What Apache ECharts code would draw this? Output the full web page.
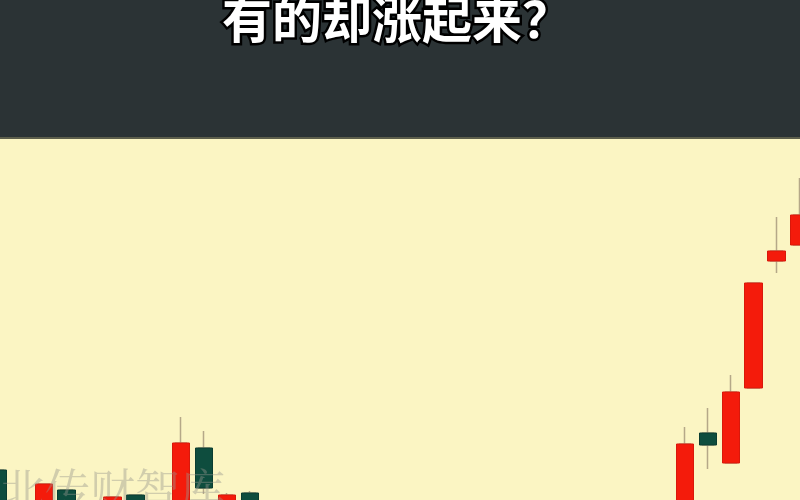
<!DOCTYPE html>
<html>
<head>
<meta charset="utf-8">
<script src="https://cdn.jsdelivr.net/npm/echarts@6/dist/echarts.min.js"></script>
<style>html,body{margin:0;padding:0;background:#fbf5c3;}#main{width:800px;height:500px;}</style>
</head>
<body>
<div id="main"></div>
<script>
// Category index of each candle (trading days)
var days = [];
for (var d = 1; d <= 36; d++) days.push('D' + d);
// Candle values: open, close, low, high (price units)
var opens  = [27.0,22.5,22.0,25.0,22.8,22.0,24.5,22.5,23.0,29.2,22.5,24.7,23.0,21.8,20.6,21.2,19.8,18.9,19.5,18.0,17.2,17.9,16.8,16.1,16.9,17.8,17.2,18.6,19.9,19.4,21.0,30.7,27.7,35.2,47.9,49.5];
var closes = [22.0,23.5,25.6,23.0,22.0,24.3,22.5,23.2,29.7,25.2,24.5,23.0,21.8,20.6,21.2,19.8,18.9,19.5,18.0,17.2,17.9,16.8,16.1,16.9,17.8,17.2,18.6,19.9,19.4,21.0,29.6,29.5,34.8,45.7,48.9,52.5];
var lows   = [21.0,21.5,21.0,22.0,21.0,21.5,22.0,21.8,22.5,24.6,22.0,22.4,21.2,20.1,20.0,19.4,18.2,18.5,17.6,16.5,16.8,16.2,15.5,15.8,16.5,16.9,17.0,18.3,19.0,19.1,20.8,27.1,27.7,35.2,46.7,49.5];
var highs  = [27.3,23.8,25.6,25.0,23.6,24.3,24.5,23.6,32.3,30.9,24.7,24.9,23.4,22.3,21.7,21.5,20.3,20.0,19.8,18.4,18.3,18.1,17.2,17.3,18.2,18.5,19.0,20.4,20.6,21.5,31.3,33.2,36.5,45.7,52.3,56.2];
var titleText = '有的却涨起来？';
var watermarkText = '北传财智库';

var full = [], bodies = [];
for (var i = 0; i < days.length; i++) {
  full.push([opens[i], closes[i], lows[i], highs[i]]);
  bodies.push([opens[i], closes[i], Math.min(opens[i], closes[i]), Math.max(opens[i], closes[i])]);
}

var chart = echarts.init(document.getElementById('main'), null, {renderer: 'canvas'});
chart.setOption({
  animation: false,
  backgroundColor: '#fbf5c3',
  grid: {left: -13.45, right: -10.95, top: 140, bottom: 0, containLabel: false, outerBoundsMode: 'none'},
  xAxis: {type: 'category', data: days, boundaryGap: true, show: false},
  yAxis: {type: 'value', min: 24, max: 60, show: false, splitLine: {show: false}},
  series: [
    {
      type: 'candlestick', name: 'wick', data: full, barWidth: 12, z: 2, clip: true,
      itemStyle: {color: 'transparent', color0: 'transparent', borderColor: '#b5a888', borderColor0: '#b5a888', borderWidth: 1.5}
    },
    {
      type: 'candlestick', name: 'body', data: bodies, barWidth: 18, z: 3, clip: true,
      itemStyle: {color: '#f41b0b', color0: '#0e4d3e', borderColor: '#d9180a', borderColor0: '#0a3d31', borderWidth: 1}
    }
  ],
  graphic: [
    {type: 'rect', left: 0, top: 0, shape: {x: 0, y: 0, width: 800, height: 138}, style: {fill: '#2b3335'}, z: 10},
    {type: 'rect', left: 0, top: 137, shape: {x: 0, y: 0, width: 800, height: 2}, style: {fill: '#5d5f4c'}, z: 10},
    {type: 'text', x: 397, y: 44, z: 11,
      style: {text: titleText, fill: '#ffffff', stroke: '#000000', lineWidth: 5,
        font: 'bold 50px "Noto Sans CJK SC"', textAlign: 'center', textVerticalAlign: 'bottom'}},
    {type: 'text', x: 0, y: 512, z: 12,
      style: {text: watermarkText, fill: 'rgba(150,150,140,0.42)',
        font: '45px "Noto Serif CJK SC", "Noto Sans CJK SC"', textAlign: 'left', textVerticalAlign: 'bottom'}}
  ]
});
</script>
</body>
</html>
